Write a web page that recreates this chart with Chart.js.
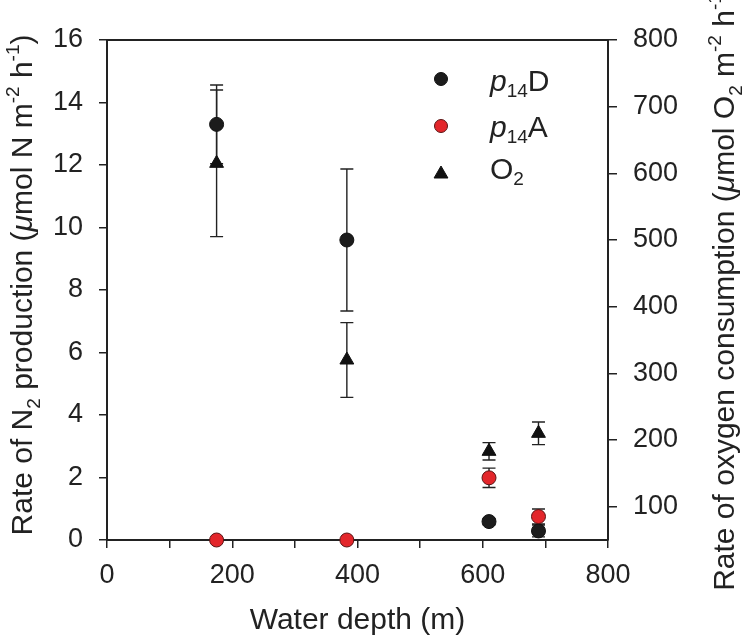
<!DOCTYPE html>
<html>
<head>
<meta charset="utf-8">
<script src="https://cdn.jsdelivr.net/npm/chart.js@4.4.1/dist/chart.umd.min.js"></script>
<style>
  html, body { margin: 0; padding: 0; background: #fff; }
</style>
</head>
<body>
<canvas id="chart" width="750" height="644"></canvas>
<script>
// Profondeurs des stations (m)
const depths = [175, 383, 610, 689];

// p14D (umol N m-2 h-1) et écart
const p14D = [13.3, 9.6, 0.59, 0.29];
const p14DErr = [1.26, 2.27, 0.1, 0.19];

// p14A
const p14A = [0, 0, 1.99, 0.75];
const p14AErr = [0, 0, 0.31, 0.24];

// Consommation d'O2 (umol O2 m-2 h-1), axe de droite
const o2 = [615, 320, 183, 210];
const o2Err = [110, 56, 13, 17];

// Graduations
const xTicks = [0, 100, 200, 300, 400, 500, 600, 700, 800];
const xTickLabels = ["0", "", "200", "", "400", "", "600", "", "800"];
const leftTicks = [0, 2, 4, 6, 8, 10, 12, 14, 16];
const rightTicks = [100, 200, 300, 400, 500, 600, 700, 800];

const FONT = "'Liberation Sans', Arial, sans-serif";
const INK = "#222";

function toPoints(ys) {
  return depths.map((d, i) => ({ x: d, y: ys[i] }));
}

// Texte avec indices / exposants, centré
function drawRich(ctx, segs, size, x, y, angle) {
  const small = Math.round(size * 0.62);
  const fontOf = (s) =>
    (s.italic ? "italic " : "") + (s.sub || s.sup ? small : size) + "px " + FONT;
  ctx.save();
  ctx.translate(x, y);
  ctx.rotate(angle);
  ctx.fillStyle = INK;
  ctx.textBaseline = "alphabetic";
  ctx.textAlign = "left";
  let total = 0;
  segs.forEach((s) => {
    ctx.font = fontOf(s);
    total += ctx.measureText(s.t).width;
  });
  let cx = -total / 2;
  segs.forEach((s) => {
    ctx.font = fontOf(s);
    const dy = s.sub ? size * 0.26 : s.sup ? -size * 0.42 : 0;
    ctx.fillText(s.t, cx, dy);
    cx += ctx.measureText(s.t).width;
  });
  ctx.restore();
}

// Même chose, aligné à gauche (légende)
function drawRichLeft(ctx, segs, size, x, y) {
  const small = Math.round(size * 0.62);
  ctx.save();
  ctx.fillStyle = INK;
  ctx.textBaseline = "alphabetic";
  let cx = x;
  segs.forEach((s) => {
    ctx.font = (s.italic ? "italic " : "") + (s.sub || s.sup ? small : size) + "px " + FONT;
    const dy = s.sub ? size * 0.2 : s.sup ? -size * 0.42 : 0;
    ctx.fillText(s.t, cx, y + dy);
    cx += ctx.measureText(s.t).width;
  });
  ctx.restore();
}

const leftTitle = [
  { t: "Rate of N" }, { t: "2", sub: true }, { t: " production (" },
  { t: "\u03bc", italic: true }, { t: "mol N m" }, { t: "-2", sup: true },
  { t: " h" }, { t: "-1", sup: true }, { t: ")" },
];
const rightTitle = [
  { t: "Rate of oxygen consumption (" }, { t: "\u03bc", italic: true },
  { t: "mol O" }, { t: "2", sub: true }, { t: " m" }, { t: "-2", sup: true },
  { t: " h" }, { t: "-1", sup: true }, { t: ")" },
];

// Barres d'erreur, dessinées sous les points
const errorBars = {
  id: "errorBars",
  beforeDatasetsDraw(chart) {
    const ctx = chart.ctx;
    chart.data.datasets.forEach((ds, i) => {
      const meta = chart.getDatasetMeta(i);
      const yScale = chart.scales[ds.yAxisID];
      ctx.save();
      ctx.strokeStyle = INK;
      ctx.lineWidth = 1.4;
      meta.data.forEach((pt, j) => {
        const e = ds.errors[j];
        if (!e) return;
        const v = ds.data[j].y;
        const top = yScale.getPixelForValue(v + e);
        const bot = yScale.getPixelForValue(v - e);
        ctx.beginPath();
        ctx.moveTo(pt.x, top);
        ctx.lineTo(pt.x, bot);
        ctx.moveTo(pt.x - 6.5, top);
        ctx.lineTo(pt.x + 6.5, top);
        ctx.moveTo(pt.x - 6.5, bot);
        ctx.lineTo(pt.x + 6.5, bot);
        ctx.stroke();
      });
      ctx.restore();
    });
  },
};

// Cadre, titres d'axes et légende
const decorations = {
  id: "decorations",
  afterDraw(chart) {
    const ctx = chart.ctx;
    const a = chart.chartArea;
    ctx.save();
    ctx.strokeStyle = INK;
    ctx.lineWidth = 2;
    ctx.beginPath();
    ctx.moveTo(a.left - 1, a.top);
    ctx.lineTo(a.right + 1, a.top);
    ctx.stroke();
    ctx.restore();

    const mid = (a.top + a.bottom) / 2;
    drawRich(ctx, leftTitle, 30, 32, mid - 5, -Math.PI / 2);
    drawRich(ctx, rightTitle, 30, 734, mid - 3, -Math.PI / 2);

    // légende
    const items = [
      { ds: chart.data.datasets[0], segs: [{ t: "p", italic: true }, { t: "14", sub: true }, { t: "D" }] },
      { ds: chart.data.datasets[1], segs: [{ t: "p", italic: true }, { t: "14", sub: true }, { t: "A" }] },
      { ds: chart.data.datasets[2], segs: [{ t: "O" }, { t: "2", sub: true }] },
    ];
    const lx = 441, ly = [79, 126, 172];
    const textY = [91, 137, 179];
    items.forEach((it, i) => {
      const tri = it.ds.pointStyle === "triangle";
      ctx.save();
      ctx.fillStyle = it.ds.backgroundColor;
      ctx.strokeStyle = it.ds.borderColor;
      Chart.helpers.drawPoint(ctx, {
        pointStyle: it.ds.pointStyle,
        radius: tri ? 8 : 6.5,
        rotation: 0,
        borderWidth: 1,
      }, lx, ly[i] + (tri ? 2 : 0));
      ctx.restore();
      drawRichLeft(ctx, it.segs, 30, 490, textY[i]);
    });
  },
};

const tickFont = { family: FONT, size: 27 };

new Chart(document.getElementById("chart"), {
  type: "scatter",
  data: {
    datasets: [
      {
        label: "p14D",
        data: toPoints(p14D),
        errors: p14DErr,
        yAxisID: "y",
        pointStyle: "circle",
        pointRadius: 7,
        backgroundColor: "#1c1c1c",
        borderColor: "#111",
        borderWidth: 1,
        order: 1,
      },
      {
        label: "p14A",
        data: toPoints(p14A),
        errors: p14AErr,
        yAxisID: "y",
        pointStyle: "circle",
        pointRadius: 7,
        backgroundColor: "#e3262b",
        borderColor: "#5a1414",
        borderWidth: 1,
        order: 0,
      },
      {
        label: "O2",
        data: toPoints(o2),
        errors: o2Err,
        yAxisID: "y2",
        pointStyle: "triangle",
        pointRadius: 8,
        backgroundColor: "#111",
        borderColor: "#111",
        borderWidth: 1,
        order: 2,
      },
    ],
  },
  options: {
    responsive: false,
    animation: false,
    events: [],
    layout: { padding: { top: 40 } },
    plugins: { legend: { display: false }, tooltip: { enabled: false } },
    datasets: { scatter: { clip: false } },
    scales: {
      x: {
        type: "linear",
        min: 0,
        max: 800,
        afterFit: (s) => { s.height = 104; },
        afterBuildTicks: (s) => { s.ticks = xTicks.map((v) => ({ value: v })); },
        ticks: {
          autoSkip: false,
          maxRotation: 0,
          padding: 11,
          color: INK,
          font: tickFont,
          callback: (v) => xTickLabels[xTicks.indexOf(v)],
        },
        grid: { drawOnChartArea: false, tickLength: 8, color: INK, lineWidth: 1.5 },
        border: { color: INK, width: 2 },
        title: {
          display: true,
          text: "Water depth (m)",
          color: INK,
          font: { family: FONT, size: 30 },
          padding: { top: 0, bottom: 5 },
        },
      },
      y: {
        position: "left",
        min: 0,
        max: 16,
        afterFit: (s) => { s.width = 107; },
        afterBuildTicks: (s) => { s.ticks = leftTicks.map((v) => ({ value: v })); },
        ticks: { padding: 16, color: INK, font: tickFont },
        grid: { drawOnChartArea: false, tickLength: 8, color: INK, lineWidth: 1.5 },
        border: { color: INK, width: 2 },
      },
      y2: {
        position: "right",
        min: 50,
        max: 800,
        afterFit: (s) => { s.width = 142; },
        afterBuildTicks: (s) => { s.ticks = rightTicks.map((v) => ({ value: v })); },
        ticks: { padding: 16, color: INK, font: tickFont },
        grid: { drawOnChartArea: false, tickLength: 9, color: INK, lineWidth: 1.5 },
        border: { color: INK, width: 2 },
      },
    },
  },
  plugins: [errorBars, decorations],
});
</script>
</body>
</html>
